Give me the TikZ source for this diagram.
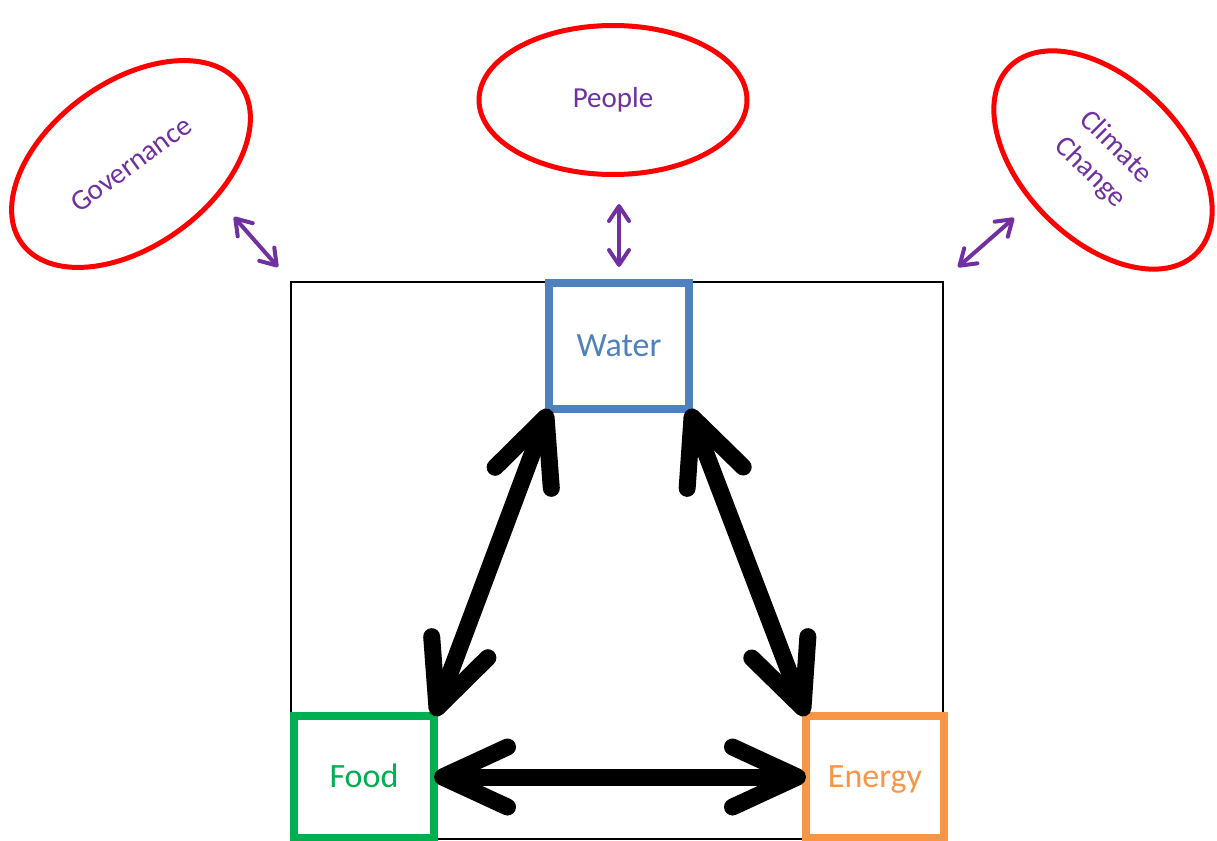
\documentclass[tikz,border=0pt]{standalone}
\usepackage{fontspec}
\setmainfont{Carlito}
\usetikzlibrary{arrows.meta,shapes.geometric}
\definecolor{cred}{HTML}{FF0000}
\definecolor{cpurple}{HTML}{7030A0}
\definecolor{wblue}{HTML}{4F81BD}
\definecolor{fgreen}{HTML}{00B050}
\definecolor{eorange}{HTML}{F79646}
\begin{document}
\begin{tikzpicture}[x=1pt,y=-1pt,
  box/.style={draw, rectangle, line width=8pt, outer sep=0pt, inner sep=0pt,
    minimum width=140pt, minimum height=126pt, fill=white,
    text height=28pt, text depth=8pt,
    font=\fontsize{34}{40}\selectfont},
  oval/.style={draw=cred, ellipse, line width=5pt, text=cpurple, inner sep=0pt,
    font=\fontsize{29}{36}\selectfont, align=center},
  link/.style={line width=17pt, line cap=round,
    {Straight Barb[length=65pt,width=60pt,round]}-{Straight Barb[length=65pt,width=60pt,round]}},
  plink/.style={draw=cpurple, line width=4pt, line cap=round,
    {Straight Barb[length=15pt,width=20pt,round]}-{Straight Barb[length=15pt,width=20pt,round]}}
]
\useasboundingbox (0,0) rectangle (1217,840);
\node[draw, line width=2pt, inner sep=0pt, outer sep=0pt,
  minimum width=652pt, minimum height=557pt] (frame) at (617,560.5) {};

\node[oval, minimum width=270pt, minimum height=164pt, rotate=36] (gov) at (131,164) {Governance};
\node[oval, minimum width=268pt, minimum height=149pt] (people) at (613,100) {People};
\node[oval, minimum width=264pt, minimum height=160pt, rotate=-45] (clim) at (1103,160) {Climate\\Change};

\node[box, draw=wblue, text=wblue] (water) at (619,346) {Water};
\node[box, draw=fgreen, text=fgreen, minimum height=122pt] (food) at (364,777) {Food};
\node[box, draw=eorange, text=eorange, minimum width=138pt, minimum height=122pt] (energy) at (875,777) {Energy};

\coordinate (g1) at (234,217); \coordinate (g2) at (278,267);
\coordinate (p1) at (619,204); \coordinate (p2) at (619,267);
\coordinate (c1) at (1014,218); \coordinate (c2) at (958,267);
\draw[plink] (g1) -- (g2);
\draw[plink] (p1) -- (p2);
\draw[plink] (c1) -- (c2);

\draw[link] (water.south west) -- (food.north east);
\draw[link] (water.south east) -- (energy.north west);
\draw[link] (food.east) -- (energy.west);
\end{tikzpicture}
\end{document}
